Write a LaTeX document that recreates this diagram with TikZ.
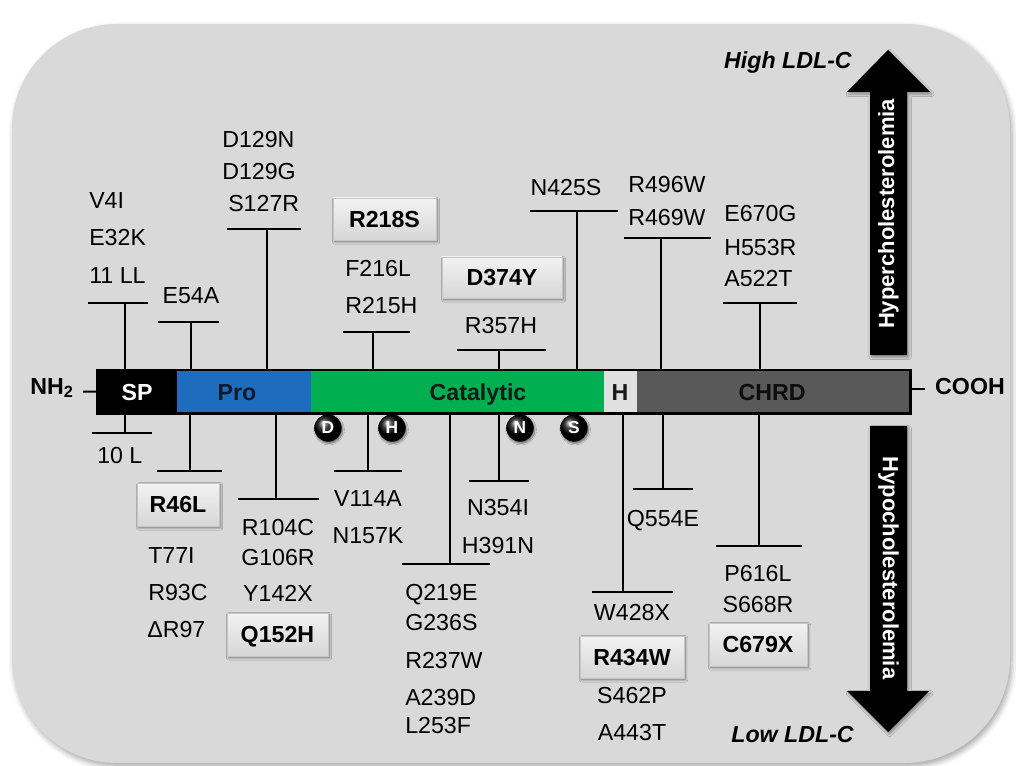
\documentclass[tikz,border=0pt]{standalone}
\usepackage{fontspec}
\setmainfont{Liberation Sans}
\usetikzlibrary{shadows,shadows.blur}
\definecolor{bgc}{RGB}{217,217,217}
\definecolor{problue}{RGB}{30,108,190}
\definecolor{catgreen}{RGB}{0,176,80}
\definecolor{hgray}{RGB}{224,224,224}
\definecolor{chrdgray}{RGB}{89,89,89}
\definecolor{protext}{RGB}{15,25,45}
\newcommand\mutfont{\fontsize{17.4}{20}\selectfont}
\tikzset{
  mut/.style={font=\mutfont, inner sep=0pt, text height=12.4pt, text depth=0pt},
  mutw/.style={mut, anchor=west},
  mbox/.style={draw=gray!45, line width=0.4pt, top color=gray!10, middle color=white, bottom color=gray!32,
    blur shadow={shadow xshift=1.2pt, shadow yshift=-1.4pt, shadow blur radius=1.6pt, shadow opacity=45},
    font=\mutfont\bfseries, text height=12.4pt, text depth=0pt, inner sep=0pt},
  seg/.style={anchor=north west, minimum height=32.25pt, inner sep=0pt},
  seglab/.style={font=\mutfont\bfseries, inner sep=0pt, text height=12.4pt, text depth=0pt},
  stem/.style={line width=1.5pt},
  res/.style={circle, shading=ball, ball color=black, minimum size=20.5pt, inner sep=0pt, text=white,
    font=\fontsize{13}{13}\selectfont\bfseries,
    blur shadow={shadow xshift=0.8pt, shadow yshift=-1.2pt, shadow blur radius=1.2pt, shadow opacity=50}},
  bigarrow/.style={fill=black, blur shadow={shadow xshift=1.2pt, shadow yshift=-1.5pt, shadow blur radius=2pt, shadow opacity=40}},
  arrlab/.style={text=white, font=\fontsize{16.5}{16.5}\selectfont\bfseries, inner sep=0pt},
  ldl/.style={font=\mutfont\bfseries\itshape, inner sep=0pt, anchor=east, text height=12.4pt, text depth=0pt},
  term/.style={font=\mutfont\bfseries, inner sep=0pt}
}
\begin{document}
\begin{tikzpicture}[x=0.75pt, y=-0.75pt]
\useasboundingbox (0,0) rectangle (1016,766);
% background panel
\fill[bgc, rounded corners=78.75pt,
  blur shadow={shadow xshift=1.5pt, shadow yshift=-2.5pt, shadow blur radius=4pt, shadow opacity=35}]
  (12,24) rectangle (1010,763);

% protein bar segments
\node[seg, fill=black, minimum width=60pt] (sp) at (97,370) {};
\node[seg, fill=problue, minimum width=100.5pt] (pro) at (177,370) {};
\node[seg, fill=catgreen, minimum width=219.75pt] (cat) at (311,370) {};
\node[seg, fill=hgray, minimum width=24.75pt] (hd) at (604,370) {};
\node[seg, fill=chrdgray, minimum width=204.75pt] (chrd) at (637,370) {};

% stems above the bar
\foreach \n/\x/\y/\l/\r in {t1/125/303/88/148, t2/191/322/158/219, t3/267/229/227/301,
  t4/373/332/343/410, t5/499/350/457/546, t6/577/211/530/618, t7/661/238/624/711, t8/760/303/723/797}{
  \coordinate (\n) at (\x,\y);
  \coordinate (\n l) at (\l,\y);
  \coordinate (\n r) at (\r,\y);
  \draw[stem] (\n l) -- (\n r);
  \draw[stem] (\n) -- (\n |- sp.north);
}
% stems below the bar
\foreach \n/\x/\y/\l/\r in {b1/125/433/92/152, b2/190/471/157/222, b3/276/499/238/319,
  b4/368/471/334/402, b5/450/564/402/490, b6/499/481/469/529, b7/623/592/592/673,
  b8/663/489/633/693, b9/759/546/716/802}{
  \coordinate (\n) at (\x,\y);
  \coordinate (\n l) at (\l,\y);
  \coordinate (\n r) at (\r,\y);
  \draw[stem] (\n l) -- (\n r);
  \draw[stem] (\n) -- (\n |- sp.south);
}

% bar outline
\draw[line width=2pt] (sp.north west) rectangle (chrd.south east);

% segment labels
\node[seglab, text=white] (lsp) at (137,392) {SP};
\node[seglab, text=protext] (lpro) at (237,392) {Pro};
\node[seglab, text=black!90] (lcat) at (478,392) {Catalytic};
\node[seglab, text=black!90] (lh) at (620,392) {H};
\node[seglab, text=black!95] (lchrd) at (772,392) {CHRD};

% termini
\node[term] (nh) at (52,388) {NH\textsubscript{2}};
\coordinate (nhl) at (83,391.5);
\draw[stem] (nhl) -- (sp.west);
\node[term] (cooh) at (970,387) {COOH};
\coordinate (coohl) at (925,389);
\draw[stem] (chrd.east |- coohl) -- (coohl);

% catalytic residues
\node[res] (rD) at (328,428) {D};
\node[res] (rH) at (392,428) {H};
\node[res] (rN) at (520,428) {N};
\node[res] (rS) at (574,428) {S};

% top labels
\node[mutw] (m1) at (89,200) {V4I};
\node[mutw] (m2) at (89,237) {E32K};
\node[mutw] (m3) at (89,275) {11 LL};
\node[mut] (m4) at (191,295) {E54A};
\node[mutw] (m5) at (222,139) {D129N};
\node[mutw] (m6) at (222,171) {D129G};
\node[mutw] (m7) at (228,203) {S127R};
\node[mbox, minimum width=77.25pt, minimum height=31.5pt] (m8) at (384.5,219) {R218S};
\node[mutw] (m9) at (345,268) {F216L};
\node[mutw] (m10) at (345,305) {R215H};
\node[mbox, minimum width=90pt, minimum height=30.75pt] (m11) at (502,277.5) {D374Y};
\node[mut] (m12) at (501,325) {R357H};
\node[mut] (m13) at (566,187) {N425S};
\node[mutw] (m14) at (628,184) {R496W};
\node[mutw] (m15) at (628,217) {R469W};
\node[mutw] (m16) at (724,213) {E670G};
\node[mutw] (m17) at (724,247) {H553R};
\node[mutw] (m18) at (724,278) {A522T};

% bottom labels
\node[mutw] (n1) at (97,455) {10 L};
\node[mbox, minimum width=61.5pt, minimum height=32.25pt] (n2) at (178,504.5) {R46L};
\node[mutw] (n3) at (148,555) {T77I};
\node[mutw] (n4) at (148,592) {R93C};
\node[mutw] (n5) at (147,629) {ΔR97};
\node[mut] (n6) at (278,527) {R104C};
\node[mut] (n7) at (278,557) {G106R};
\node[mut] (n8) at (278,593) {Y142X};
\node[mbox, minimum width=75.75pt, minimum height=32.25pt] (n9) at (277.5,634.5) {Q152H};
\node[mut] (n10) at (368,498) {V114A};
\node[mut] (n11) at (368,535) {N157K};
\node[mutw] (n12) at (405,592) {Q219E};
\node[mutw] (n13) at (405,622) {G236S};
\node[mutw] (n14) at (405,660) {R237W};
\node[mutw] (n15) at (405,697) {A239D};
\node[mutw] (n16) at (405,725) {L253F};
\node[mut] (n17) at (498,507) {N354I};
\node[mut] (n18) at (498,545) {H391N};
\node[mut] (n19) at (632,612) {W428X};
\node[mbox, minimum width=78pt, minimum height=31.5pt] (n20) at (632,657) {R434W};
\node[mut] (n21) at (632,695) {S462P};
\node[mut] (n22) at (632,732) {A443T};
\node[mut] (n23) at (663,518) {Q554E};
\node[mut] (n24) at (758,573) {P616L};
\node[mut] (n25) at (758,604) {S668R};
\node[mbox, minimum width=73.5pt, minimum height=32.25pt] (n26) at (758,644.5) {C679X};

% direction arrows
\path[bigarrow] (870,355) -- (870,92) -- (847,92) -- (888,50) -- (930,92) -- (907,92) -- (907,355) -- cycle;
\path[bigarrow] (870,426) -- (870,691) -- (847,691) -- (888,732) -- (929,691) -- (907,691) -- (907,426) -- cycle;
\node[arrlab, rotate=90] (hyper) at (888.5,214) {Hypercholesterolemia};
\node[arrlab, rotate=-90] (hypo) at (888.5,568) {Hypocholesterolemia};
\node[ldl] (high) at (852,60) {High LDL-C};
\node[ldl] (low) at (854,734) {Low LDL-C};
\end{tikzpicture}
\end{document}
